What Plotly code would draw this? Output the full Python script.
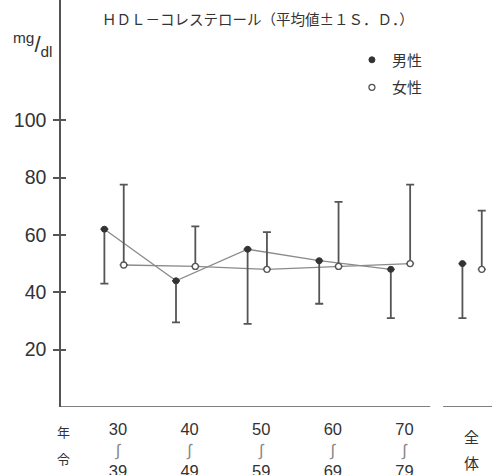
import plotly.graph_objects as go

# ---- data ----
group_top = ["30", "40", "50", "60", "70", "全"]
group_bottom = ["39", "49", "59", "69", "79", "体"]
group_pos = [0, 1, 2, 3, 4, 5]
male_mean = [62, 44, 55, 51, 48, 50]
male_low = [43, 29.5, 29, 36, 31, 31]
female_mean = [49.5, 49, 48, 49, 50, 48]
female_high = [77.5, 63, 61, 71.5, 77.5, 68.5]
y_ticks = [20, 40, 60, 80, 100]

male_off = -0.19
female_off = 0.08
mx = [p + male_off for p in group_pos]
fx = [p + female_off for p in group_pos]

ink = "#555555"
txt = "#333333"
jp = "Noto Sans CJK JP"
num = "Liberation Sans, Arial, sans-serif"

tilde = "<span style='color:#888888'>∫</span>"
ticktext = []
for t, b in zip(group_top, group_bottom):
    if t.isdigit():
        ticktext.append(f"{t}<br>{tilde}<br>{b}")
    else:
        ticktext.append("")

fig = go.Figure()

# connecting lines (age groups only)
fig.add_trace(go.Scatter(x=mx[:5], y=male_mean[:5], mode="lines",
                         line=dict(color="#8a8a8a", width=1.3), showlegend=False, hoverinfo="skip"))
fig.add_trace(go.Scatter(x=fx[:5], y=female_mean[:5], mode="lines",
                         line=dict(color="#8a8a8a", width=1.3), showlegend=False, hoverinfo="skip"))

# male: filled markers, lower SD bars
fig.add_trace(go.Scatter(
    x=mx, y=male_mean, mode="markers", name="男性", legendgroup="m",
    marker=dict(symbol="circle", size=6, color="#333333", line=dict(color="#333333", width=1)),
    error_y=dict(type="data", symmetric=False,
                 array=[0] * len(male_mean),
                 arrayminus=[m - l for m, l in zip(male_mean, male_low)],
                 color=ink, thickness=1.8, width=4)))

# female: open markers, upper SD bars
fig.add_trace(go.Scatter(
    x=fx, y=female_mean, mode="markers", name="女性", legendgroup="f",
    marker=dict(symbol="circle", size=6, color="white", line=dict(color="#555555", width=1.3)),
    error_y=dict(type="data", symmetric=False,
                 array=[h - m for h, m in zip(female_high, female_mean)],
                 arrayminus=[0] * len(female_mean),
                 color=ink, thickness=1.8, width=4)))

# x-axis line with a break before the total group
fig.add_shape(type="line", xref="x", yref="y", x0=-0.8, x1=4.36, y0=0, y1=0,
              line=dict(color=ink, width=1.5))
fig.add_shape(type="line", xref="x", yref="y", x0=4.54, x1=5.3, y0=0, y1=0,
              line=dict(color=ink, width=1.5))

fig.update_layout(
    width=492, height=475,
    margin=dict(l=61, r=0, t=0, b=68),
    paper_bgcolor="white", plot_bgcolor="white",
    showlegend=True,
    legend=dict(x=0.675, y=0.893, xanchor="left", yanchor="top",
                font=dict(family=jp, size=15, color=txt),
                traceorder="grouped", tracegroupgap=5,
                bgcolor="rgba(0,0,0,0)", itemwidth=30),
    xaxis=dict(range=[-0.796, 5.223], showgrid=False, zeroline=False, showline=False,
               tickvals=group_pos, ticktext=ticktext, ticks="", ticklabelstandoff=10,
               automargin=False,
               tickfont=dict(family=num, size=16.5, color=txt)),
    yaxis=dict(range=[0, 141.9], showgrid=False, zeroline=False,
               showline=True, linecolor=ink, linewidth=1.5, automargin=False,
               tickvals=y_ticks, ticks="outside", ticklen=6, tickcolor=ink, tickwidth=1.5,
               ticklabelstandoff=3,
               tickfont=dict(family=num, size=19.5, color=txt)),
    yaxis2=dict(range=[0, 141.9], overlaying="y", side="left", showgrid=False, zeroline=False,
                tickvals=y_ticks, ticks="inside", ticklen=5, tickcolor=ink, tickwidth=1.5,
                showticklabels=False, automargin=False),
)

# dummy anchor for yaxis2 ticks
fig.add_trace(go.Scatter(x=[None], y=[None], yaxis="y2", showlegend=False, hoverinfo="skip"))

fig.add_annotation(text="ＨＤＬ－コレステロール（平均値±１Ｓ．Ｄ．）", xref="paper", yref="paper",
                   x=(100 - 61) / 431, y=1 - 18 / 407, xanchor="left", yanchor="middle",
                   showarrow=False, font=dict(family=jp, size=14.5, color=txt))
fig.add_annotation(text="<sup>mg</sup>/<sub>dl</sub>", xref="paper", yref="paper",
                   x=-50 / 431, y=1 - 45 / 407, xanchor="left", yanchor="middle",
                   showarrow=False, font=dict(family=num, size=22, color=txt))
fig.add_annotation(text="年", xref="paper", yref="paper",
                   x=(63 - 61) / 431, y=-(432 - 407) / 407, xanchor="center", yanchor="middle",
                   showarrow=False, font=dict(family=jp, size=13, color=txt))
fig.add_annotation(text="令", xref="paper", yref="paper",
                   x=(63 - 61) / 431, y=-(458 - 407) / 407, xanchor="center", yanchor="middle",
                   showarrow=False, font=dict(family=jp, size=13, color=txt))
# total group label (全 / 体)
fig.add_annotation(text=group_top[5], xref="x", yref="paper",
                   x=group_pos[5] - 0.06, y=-(436 - 407) / 407, xanchor="center", yanchor="middle",
                   showarrow=False, font=dict(family=jp, size=15, color=txt))
fig.add_annotation(text=group_bottom[5], xref="x", yref="paper",
                   x=group_pos[5] - 0.06, y=-(462 - 407) / 407, xanchor="center", yanchor="middle",
                   showarrow=False, font=dict(family=jp, size=15, color=txt))

fig.write_html("out.html")
